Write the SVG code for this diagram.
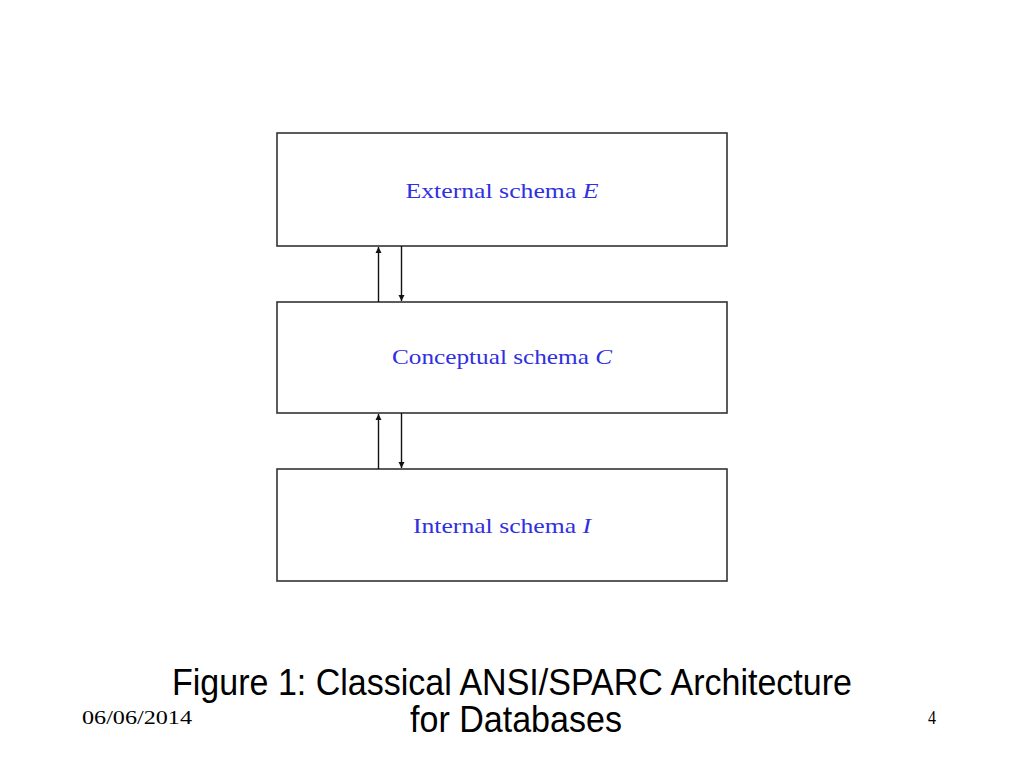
<svg xmlns="http://www.w3.org/2000/svg" width="1024" height="768" viewBox="0 0 1024 768">
<style>
.box{fill:#fff;stroke:#333;stroke-width:1.6}
.lbl{font-family:"Liberation Serif",serif;font-size:22px;fill:#3030e0}
.cap{font-family:"Liberation Sans",Arial,sans-serif;font-size:37px;fill:#000}
.ftr{font-family:"Liberation Serif",serif;font-size:19px;fill:#000}
.conn{stroke:#111;stroke-width:1.4;fill:none}
</style>
<defs>
<marker id="ah" viewBox="0 0 6 8" refX="6" refY="4" markerWidth="6" markerHeight="8" markerUnits="userSpaceOnUse" orient="auto">
<path d="M0,1 L6,4 L0,7 z" fill="#111"/>
</marker>
</defs>
<rect width="1024" height="768" fill="#fff"/>
<g id="external">
<rect class="box" x="277" y="133" width="450" height="113"/>
<text class="lbl" x="502" y="198" text-anchor="middle" textLength="193" lengthAdjust="spacingAndGlyphs">External schema <tspan font-style="italic">E</tspan></text>
</g>
<g id="conceptual">
<rect class="box" x="277" y="302" width="450" height="111"/>
<text class="lbl" x="502" y="364" text-anchor="middle" textLength="220" lengthAdjust="spacingAndGlyphs">Conceptual schema <tspan font-style="italic">C</tspan></text>
</g>
<g id="internal">
<rect class="box" x="277" y="469" width="450" height="112"/>
<text class="lbl" x="502" y="533" text-anchor="middle" textLength="178" lengthAdjust="spacingAndGlyphs">Internal schema <tspan font-style="italic">I</tspan></text>
</g>
<g id="connectors">
<line class="conn" x1="378.5" y1="302" x2="378.5" y2="247" marker-end="url(#ah)"/>
<line class="conn" x1="401.5" y1="246" x2="401.5" y2="301" marker-end="url(#ah)"/>
<line class="conn" x1="378.5" y1="469" x2="378.5" y2="414" marker-end="url(#ah)"/>
<line class="conn" x1="401.5" y1="413" x2="401.5" y2="468" marker-end="url(#ah)"/>
</g>
<g id="caption">
<text class="cap" x="512" y="695" text-anchor="middle" textLength="680" lengthAdjust="spacingAndGlyphs">Figure 1: Classical ANSI/SPARC Architecture</text>
<text class="cap" x="516" y="732" text-anchor="middle" textLength="212" lengthAdjust="spacingAndGlyphs">for Databases</text>
</g>
<g id="footer">
<text class="ftr" x="82" y="724" textLength="110" lengthAdjust="spacingAndGlyphs">06/06/2014</text>
<text class="ftr" x="928" y="724" textLength="8" lengthAdjust="spacingAndGlyphs">4</text>
</g>
</svg>
